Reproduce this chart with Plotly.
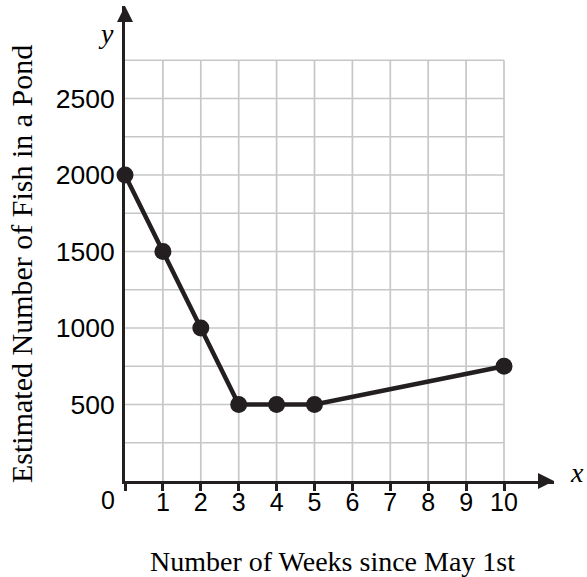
import plotly.graph_objects as go

weeks = [0, 1, 2, 3, 4, 5, 10]
fish = [2000, 1500, 1000, 500, 500, 500, 750]
x_ticks = [0, 1, 2, 3, 4, 5, 6, 7, 8, 9, 10]
x_tick_text = ["", "1", "2", "3", "4", "5", "6", "7", "8", "9", "10"]
y_ticks = [500, 1000, 1500, 2000, 2500]
y_tick_text = ["500", "1000", "1500", "2000", "2500"]
grid_x = [1, 2, 3, 4, 5, 6, 7, 8, 9, 10]
grid_y = [250, 500, 750, 1000, 1250, 1500, 1750, 2000, 2250, 2500, 2750]

W, H = 587, 577
L, R, T, B = 125, 33, 6, 96
PW, PH = W - L - R, H - T - B
XPX = 37.9            # px per week
YPX = 76.5 / 500      # px per fish
XMAX = PW / XPX
YMAX = PH / YPX

DARK = "#231f20"
GRID = "#c6c7c9"


def px(xp, yp):
    return (xp - L) / PW, (H - B - yp) / PH


fig = go.Figure()
fig.add_trace(go.Scatter(
    x=weeks, y=fish, mode="lines+markers",
    line=dict(color=DARK, width=4.5),
    marker=dict(color=DARK, size=17),
    cliponaxis=False, hoverinfo="skip", showlegend=False,
))

shapes = []
for gx in grid_x:
    shapes.append(dict(type="line", xref="x", yref="y", x0=gx, x1=gx, y0=0, y1=grid_y[-1],
                       line=dict(color=GRID, width=1.7), layer="below"))
for gy in grid_y:
    shapes.append(dict(type="line", xref="x", yref="y", x0=0, x1=grid_x[-1], y0=gy, y1=gy,
                       line=dict(color=GRID, width=1.7), layer="below"))
# arrowheads (paper-referenced so they are not clipped)
shapes.append(dict(type="path", xref="paper", yref="paper", xsizemode="pixel", ysizemode="pixel",
                   xanchor=1, yanchor=0, path="M 0 0 L -16 8 L -16 -8 Z",
                   fillcolor=DARK, line=dict(width=0), layer="above"))
shapes.append(dict(type="path", xref="paper", yref="paper", xsizemode="pixel", ysizemode="pixel",
                   xanchor=0, yanchor=1, path="M 0 0 L -8 -16 L 8 -16 Z",
                   fillcolor=DARK, line=dict(width=0), layer="above"))

annotations = []
ax_, ay_ = px(108, 500)
annotations.append(dict(x=ax_, y=ay_, xref="paper", yref="paper", text="0", showarrow=False,
                        font=dict(family="Liberation Sans", size=25, color="black"),
                        xanchor="center", yanchor="middle"))
tx, ty = px(332, 561)
annotations.append(dict(x=tx, y=ty, xref="paper", yref="paper", text="Number of Weeks since May 1st",
                        showarrow=False, font=dict(family="Liberation Serif", size=28, color="black"),
                        xanchor="center", yanchor="middle"))
tx, ty = px(21, 264)
annotations.append(dict(x=tx, y=ty, xref="paper", yref="paper",
                        text="Estimated Number of Fish in a Pond", textangle=-90,
                        showarrow=False, font=dict(family="Liberation Serif", size=30, color="black"),
                        xanchor="center", yanchor="middle"))
tx, ty = px(106, 33)
annotations.append(dict(x=tx, y=ty, xref="paper", yref="paper", text="<i>y</i>",
                        showarrow=False, font=dict(family="Liberation Serif", size=28, color="black"),
                        xanchor="center", yanchor="middle"))
tx, ty = px(577, 472)
annotations.append(dict(x=tx, y=ty, xref="paper", yref="paper", text="<i>x</i>",
                        showarrow=False, font=dict(family="Liberation Serif", size=28, color="black"),
                        xanchor="center", yanchor="middle"))

fig.update_layout(
    width=W, height=H,
    margin=dict(l=L, r=R, t=T, b=B),
    paper_bgcolor="white", plot_bgcolor="white",
    shapes=shapes, annotations=annotations,
    xaxis=dict(range=[0, XMAX], showgrid=False, zeroline=False,
               showline=True, linecolor=DARK, linewidth=3,
               tickmode="array", tickvals=x_ticks, ticktext=x_tick_text,
               ticks="outside", ticklen=7, tickwidth=2.5, tickcolor=DARK,
               ticklabelstandoff=-10,
               tickfont=dict(family="Liberation Sans", size=25, color="black"),
               layer="below traces", fixedrange=True),
    yaxis=dict(range=[0, YMAX], showgrid=False, zeroline=False,
               showline=True, linecolor=DARK, linewidth=3,
               tickmode="array", tickvals=y_ticks, ticktext=y_tick_text,
               ticks="", ticklabelstandoff=2,
               tickfont=dict(family="Liberation Sans", size=26.5, color="black"),
               layer="below traces", fixedrange=True),
)

fig.write_html("out.html", config={"displayModeBar": False},
               post_script="document.body.style.margin='0';document.body.style.padding='0';")
